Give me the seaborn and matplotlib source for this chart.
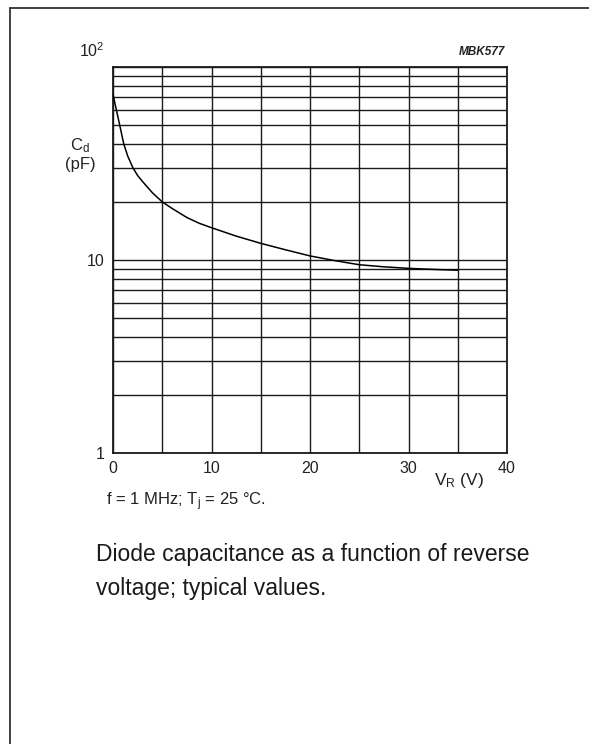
import numpy as np
import pandas as pd
import seaborn as sns
import matplotlib.pyplot as plt
from matplotlib.lines import Line2D
from matplotlib.transforms import ScaledTranslation

# values
v_reverse = [0, 0.34, 0.68, 1.09, 1.5, 2.03, 2.5, 3, 4, 5, 6, 7.5, 8.75, 10,
             12.5, 15, 17.5, 20, 22.5, 25, 27.5, 30, 32.5, 35]
c_diode = [72, 60, 50, 40, 34.5, 30, 27.4, 25.5, 22.3, 20, 18.5, 16.6, 15.5, 14.7,
           13.3, 12.2, 11.3, 10.5, 9.93, 9.45, 9.22, 9.05, 8.94, 8.85]

x_major = [0, 10, 20, 30, 40]
x_minor = [5, 15, 25, 35]
y_major = [1, 10, 100]
y_major_labels = ["1", "10", "10$^2$"]
y_minor = [2, 3, 4, 5, 6, 7, 8, 9, 20, 30, 40, 50, 60, 70, 80, 90]

df = pd.DataFrame({"VR": v_reverse, "Cd": c_diode})

sns.set_style("white")
plt.rcParams['font.family'] = ['Liberation Sans', 'DejaVu Sans']
plt.rcParams['mathtext.default'] = 'regular'

W, H = 589, 744
fig = plt.figure(figsize=(W / 100, H / 100), dpi=100)
ax = fig.add_axes([113 / W, 1 - 453 / H, (507 - 113) / W, (453 - 67) / H])

sns.lineplot(data=df, x="VR", y="Cd", ax=ax, color="black", linewidth=1.1, zorder=5)

ax.set_yscale("log")
ax.set_xlim(0, 40)
ax.set_ylim(1, 100)
ax.set_xticks(x_major)
ax.set_xticks(x_minor, minor=True)
ax.set_xticklabels([str(v) for v in x_major])
ax.set_yticks(y_major)
ax.set_yticks(y_minor, minor=True)
ax.set_yticklabels(y_major_labels)
ax.yaxis.set_minor_formatter(plt.NullFormatter())
ax.grid(True, which="both", color="#1a1a1a", linewidth=1.0)
ax.tick_params(which="both", length=0, labelsize=11.5, colors="#222222")
ax.tick_params(axis="x", pad=6)
ax.tick_params(axis="y", pad=6)
for s in ax.spines.values():
    s.set_color("#1a1a1a")
    s.set_linewidth(1.3)
ax.set_xlabel("")
ax.set_ylabel("")

# the 10^2 label sits above the top gridline in the datasheet
top_lab = ax.get_yticklabels()[2]
top_lab.set_transform(top_lab.get_transform() + ScaledTranslation(0, 18 / 100, fig.dpi_scale_trans))

def txt(x, y, s, **kw):
    fig.text(x / W, 1 - y / H, s, **kw)

txt(505, 52, "MBK577", fontsize=8.5, fontstyle="italic", fontweight="bold", ha="right", va="center", color="#222222")
txt(80, 146, "C$_d$", fontsize=12, ha="center", va="center", color="#222222")
txt(80, 164, "(pF)", fontsize=12, ha="center", va="center", color="#222222")
txt(459, 481, "V$_R$ (V)", fontsize=12.5, ha="center", va="center", color="#222222")
txt(106, 502, "f = 1 MHz; T$_j$ = 25 °C.", fontsize=12, ha="left", va="center", color="#222222")
txt(96, 554, "Diode capacitance as a function of reverse", fontsize=16.5, ha="left", va="center", color="#1a1a1a")
txt(96, 588, "voltage; typical values.", fontsize=16.5, ha="left", va="center", color="#1a1a1a")

# page border (left and top only)
fig.add_artist(Line2D([10 / W, 10 / W], [0, 1 - 8 / H], transform=fig.transFigure, color="#333333", linewidth=1.3))
fig.add_artist(Line2D([10 / W, 1], [1 - 8 / H, 1 - 8 / H], transform=fig.transFigure, color="#333333", linewidth=1.3))

fig.savefig("out.png", dpi=100, facecolor="white")
